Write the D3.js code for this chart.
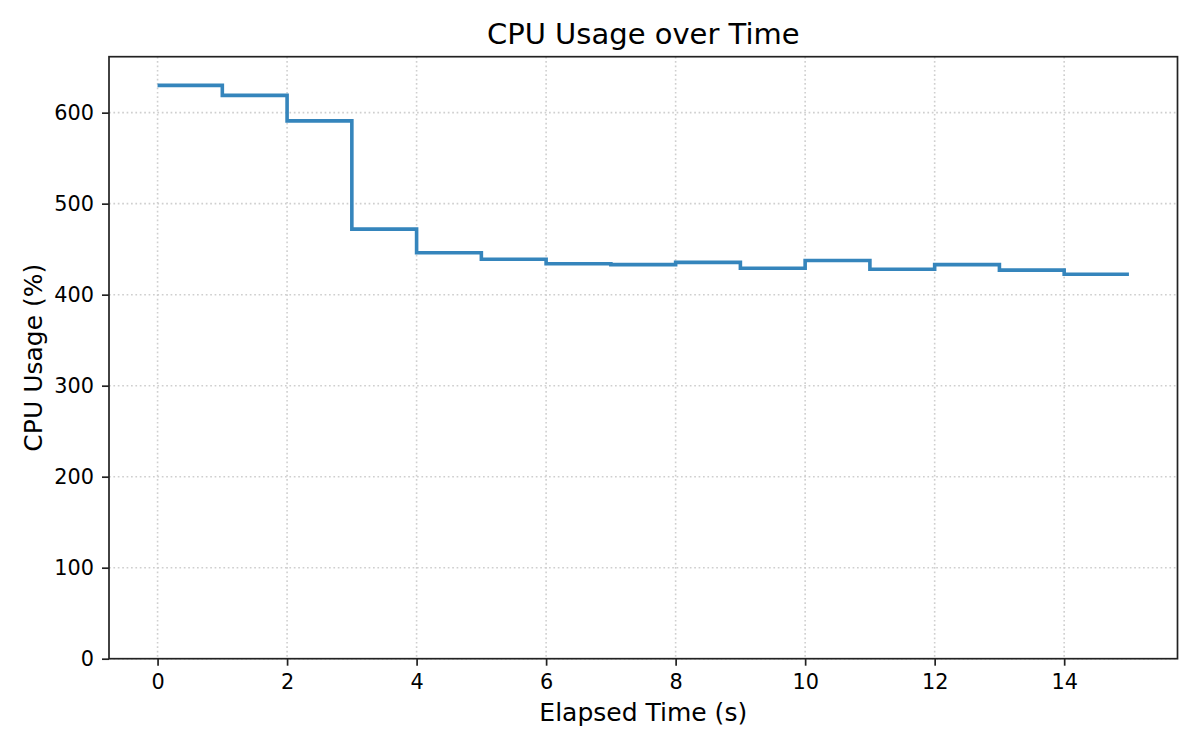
<!DOCTYPE html>
<html>
<head>
<meta charset="utf-8">
<script src="https://cdn.jsdelivr.net/npm/d3@7"></script>
<style>
    body { margin: 0; background: #fff; }
    svg { display: block; font-family: 'DejaVu Sans', sans-serif; }
</style>
</head>
<body>
<svg class="chart" width="1200" height="750"></svg>
<script>
// elapsed seconds and cpu usage per step (last value repeated to close the final step)
const times = [0, 1, 2, 3, 4, 5, 6, 7, 8, 9, 10, 11, 12, 13, 14, 15];
const cpuUsage = [630, 619, 591, 472, 446, 439, 434, 433, 435.5, 429, 437.5, 428, 433, 427, 422.5, 422.5];
const xTicks = [0, 2, 4, 6, 8, 10, 12, 14];
const yTicks = [0, 100, 200, 300, 400, 500, 600];

const data = times.map((t, i) => ({ t: t, v: cpuUsage[i] }));

const svg = d3.select('.chart');

const margin = { top: 56.7, right: 22.5, bottom: 91.3, left: 109 };
const width = +svg.attr('width');
const height = +svg.attr('height');
const innerWidth = width - margin.left - margin.right;
const innerHeight = height - margin.top - margin.bottom;

// matplotlib-ish 5% padding on x, y from 0 up to max * 1.05
const xPad = (d3.max(times) - d3.min(times)) * 0.05;
const xScale = d3.scaleLinear()
    .domain([d3.min(times) - xPad, d3.max(times) + xPad])
    .range([0, innerWidth]);

const yScale = d3.scaleLinear()
    .domain([0, d3.max(cpuUsage) * 1.05])
    .range([innerHeight, 0]);

const g = svg.append('g')
    .attr('transform', `translate(${margin.left}, ${margin.top})`);

// dotted grid
g.append('g')
    .selectAll('line')
    .data(xTicks)
    .join('line')
    .attr('x1', d => xScale(d))
    .attr('x2', d => xScale(d))
    .attr('y1', 0)
    .attr('y2', innerHeight)
    .attr('stroke', '#cfcfcf')
    .attr('stroke-width', 1.6)
    .attr('stroke-dasharray', '1.7, 2.7');

g.append('g')
    .selectAll('line')
    .data(yTicks)
    .join('line')
    .attr('x1', 0)
    .attr('x2', innerWidth)
    .attr('y1', d => yScale(d))
    .attr('y2', d => yScale(d))
    .attr('stroke', '#cfcfcf')
    .attr('stroke-width', 1.6)
    .attr('stroke-dasharray', '1.7, 2.7');

// step line
const line = d3.line()
    .x(d => xScale(d.t))
    .y(d => yScale(d.v))
    .curve(d3.curveStepAfter);

g.append('path')
    .datum(data)
    .attr('fill', 'none')
    .attr('stroke', '#3585bc')
    .attr('stroke-width', 3.6)
    .attr('d', line);

// axes
const xAxis = g.append('g')
    .attr('transform', `translate(0, ${innerHeight})`)
    .call(d3.axisBottom(xScale)
        .tickValues(xTicks)
        .tickSize(7)
        .tickSizeOuter(0)
        .tickPadding(8.5));

const yAxis = g.append('g')
    .call(d3.axisLeft(yScale)
        .tickValues(yTicks)
        .tickSize(7)
        .tickSizeOuter(0)
        .tickPadding(8));

[xAxis, yAxis].forEach(a => {
    a.select('.domain').remove();
    a.selectAll('.tick line').attr('stroke', '#222').attr('stroke-width', 1.7);
    a.selectAll('.tick text')
        .attr('fill', '#000')
        .style('font-size', '20.8px')
        .style('font-family', 'DejaVu Sans');
});

// frame
g.append('rect')
    .attr('width', innerWidth)
    .attr('height', innerHeight)
    .attr('fill', 'none')
    .attr('stroke', '#222')
    .attr('stroke-width', 1.7);

// title and labels
svg.append('text')
    .attr('x', margin.left + innerWidth / 2)
    .attr('y', 44.3)
    .attr('text-anchor', 'middle')
    .style('font-size', '29px')
    .text('CPU Usage over Time');

svg.append('text')
    .attr('x', margin.left + innerWidth / 2)
    .attr('y', 721)
    .attr('text-anchor', 'middle')
    .style('font-size', '25px')
    .text('Elapsed Time (s)');

svg.append('text')
    .attr('transform', `translate(42, ${margin.top + innerHeight / 2}) rotate(-90)`)
    .attr('text-anchor', 'middle')
    .style('font-size', '25px')
    .text('CPU Usage (%)');
</script>
</body>
</html>
